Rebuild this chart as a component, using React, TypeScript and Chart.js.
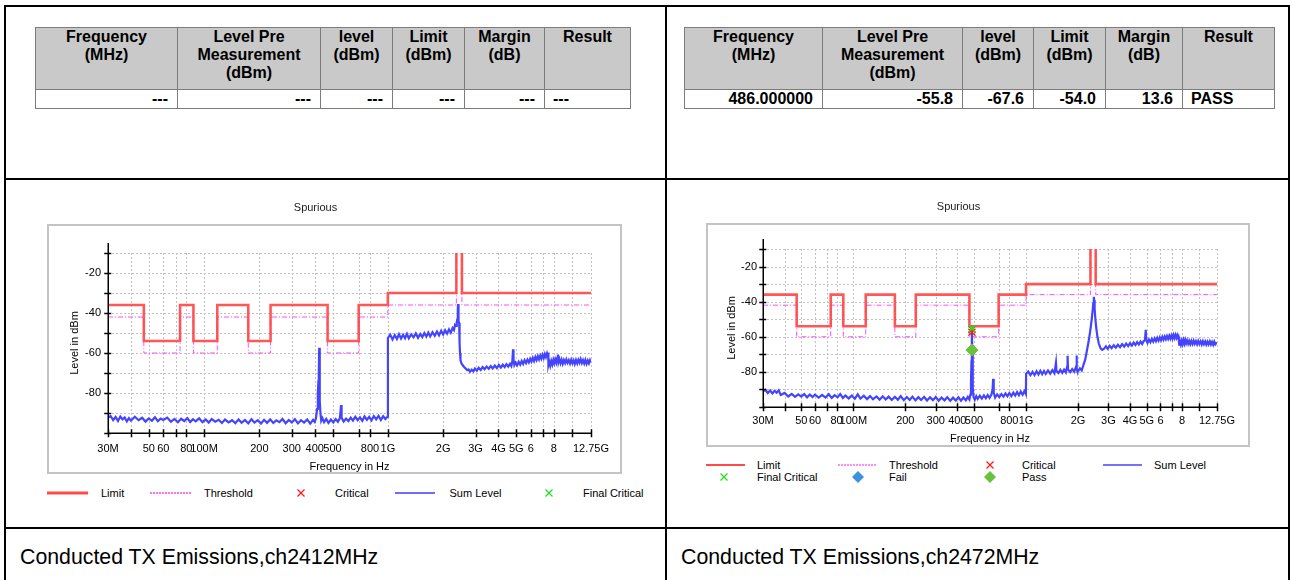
import React, { useEffect, useRef } from 'react';
import { Chart, registerables } from 'chart.js';

Chart.register(...registerables);

const FONT = '"Liberation Sans", Arial, Helvetica, sans-serif';
Chart.defaults.font.family = FONT;
Chart.defaults.color = '#000';

// ---------- table data ----------
const TABLE_HEADERS = ['Frequency\n(MHz)', 'Level Pre\nMeasurement\n(dBm)', 'level\n(dBm)', 'Limit\n(dBm)', 'Margin\n(dB)', 'Result'];
const ROW_CH2412 = ['---', '---', '---', '---', '---', '---'];
const ROW_CH2472 = ['486.000000', '-55.8', '-67.6', '-54.0', '13.6', 'PASS'];
const CAPTION_2412 = 'Conducted TX Emissions,ch2412MHz';
const CAPTION_2472 = 'Conducted TX Emissions,ch2472MHz';

// ---------- axes ----------
const X_TICKS_MHZ = [30, 40, 50, 60, 70, 80, 100, 200, 300, 400, 500, 700, 800, 1000, 2000, 3000, 4000, 5000, 6000, 7000, 8000, 10000, 12750];
const X_TICK_LABELS = ['30M', '', '50', '60', '', '80', '100M', '200', '300', '400', '500', '', '800', '1G', '2G', '3G', '4G', '5G', '6', '', '8', '', '12.75G'];
const Y_TICKS_DBM = [-100, -90, -80, -70, -60, -50, -40, -30, -20, -10];
const Y_TICK_LABELS = ['', '', '-80', '', '-60', '', '-40', '', '-20', ''];

// ---------- limit / threshold (step lines) ----------
const LIMIT_MHZ = [30, 47, 47, 74, 74, 87.5, 87.5, 118, 118, 174, 174, 230, 230, 470, 470, 694, 694, 1000, 1000, 2360, 2360, 2530, 2530, 12750];
const LIMIT_DBM = [-36, -36, -54, -54, -36, -36, -54, -54, -36, -36, -54, -54, -36, -36, -54, -54, -36, -36, -30, -30, 0, 0, -30, -30];
const THRESHOLD_DBM = [-42, -42, -60, -60, -42, -42, -60, -60, -42, -42, -60, -60, -42, -42, -60, -60, -42, -42, -36, -36, 0, 0, -36, -36];

// ---------- Sum Level, ch2412 (MHz, dBm) ----------
const SUM_2412: number[][] = [
  [30, -92.5], [31, -91.5], [32, -93.5], [33, -92], [34, -94], [35, -91.8], [36, -93.2], [37, -92.2], [38, -94.2], [39, -92.6],
  [40, -93.8], [42, -91.9], [44, -93.6], [46, -92.4], [48, -94.3], [50, -92.7], [52, -93.9], [54, -92.1], [56, -94.1], [58, -92.8],
  [60, -93.5], [63, -92.3], [66, -94.4], [69, -93], [72, -94.6], [75, -92.9], [78, -94], [81, -92.6], [84, -94.5], [87, -93.1],
  [90, -94.2], [94, -92.7], [98, -94.6], [102, -93.2], [106, -94.8], [110, -93], [115, -94.3], [120, -93.4], [125, -95], [130, -93.3],
  [136, -94.7], [142, -93.6], [148, -95.1], [154, -93.2], [160, -94.9], [167, -93.5], [174, -95.2], [181, -93.1], [188, -94.8], [196, -93.6],
  [204, -95.3], [212, -93.4], [220, -94.9], [229, -93.2], [238, -95], [247, -93.7], [257, -94.6], [267, -93], [278, -95.1], [289, -93.5],
  [300, -94.7], [312, -93.1], [324, -95.2], [337, -93.6], [350, -94.8], [364, -93.2], [378, -95.3], [392, -93.4], [400, -94.5], [406, -92.8],
  [412, -88], [416, -80], [419, -74], [421, -70], [423, -57.4], [425, -72], [427, -84], [430, -90.5], [434, -93.8], [440, -92.5],
  [450, -94.6], [462, -93], [475, -95], [490, -93.3], [505, -94.7], [520, -93], [535, -94.4], [548, -92.6], [553, -89], [556, -86],
  [560, -92.4], [575, -94.3], [592, -92.8], [610, -94], [628, -92.3], [646, -93.8], [665, -91.9], [685, -93.6], [705, -92.2], [726, -93.9],
  [747, -91.7], [769, -93.4], [792, -91.9], [815, -93.7], [839, -91.5], [864, -93.2], [890, -91.4], [916, -93.5], [943, -91.6], [970, -93],
  [998, -91.8], [1001, -52.5], [1030, -50.8], [1060, -53.2], [1090, -51], [1120, -53], [1150, -50.6], [1180, -52.8], [1210, -50.9], [1240, -52.6],
  [1270, -50.4], [1300, -52.7], [1340, -50.7], [1380, -52.2], [1420, -50.2], [1460, -52.4], [1500, -50.5], [1540, -52], [1580, -50], [1620, -51.8],
  [1660, -49.8], [1700, -51.7], [1750, -49.6], [1800, -51.4], [1850, -49.3], [1900, -51.2], [1950, -48.9], [2000, -50.8], [2050, -48.6], [2100, -50.3],
  [2150, -48.2], [2200, -49.8], [2250, -47.5], [2290, -48.5], [2320, -46], [2350, -46.5], [2370, -44.5], [2390, -43], [2400, -42.5], [2405, -38],
  [2410, -35.5], [2414, -42], [2420, -43.5], [2428, -42.2], [2436, -44], [2444, -45], [2452, -49], [2460, -55], [2470, -60], [2485, -63.5],
  [2510, -65], [2550, -66], [2600, -67], [2650, -67.8], [2700, -68.6], [2750, -68.2], [2800, -69.4], [2860, -68.3], [2920, -69.2], [2980, -67.8],
  [3050, -68.8], [3120, -67.4], [3200, -68.5], [3280, -67], [3360, -68.1], [3450, -66.8], [3540, -67.9], [3630, -66.5], [3720, -67.7], [3820, -66.3],
  [3920, -67.6], [4020, -66], [4120, -67.3], [4220, -65.8], [4320, -67], [4420, -65.6], [4520, -66.8], [4620, -65.4], [4700, -66.5], [4760, -64],
  [4800, -58.2], [4830, -63.5], [4880, -66], [4950, -64.8], [5050, -66.2], [5150, -64.4], [5250, -65.8], [5350, -64], [5450, -65.5], [5550, -63.6],
  [5650, -65], [5750, -63.3], [5850, -64.7], [5950, -62.9], [6050, -64.3], [6150, -62.4], [6250, -64], [6350, -62], [6450, -63.5], [6550, -61.6],
  [6650, -63.2], [6750, -61.3], [6850, -62.8], [6950, -60.9], [7050, -62.5], [7150, -60.5], [7250, -62], [7350, -60.2], [7420, -61.5], [7450, -59.8],
  [7480, -65.8], [7550, -64.2], [7650, -66.4], [7750, -64], [7850, -65.8], [7950, -63.5], [8050, -65.2], [8150, -63.2], [8250, -64.8], [8350, -62.5],
  [8420, -60.8], [8480, -64.6], [8580, -63], [8700, -65.1], [8820, -63.3], [8950, -65.4], [9080, -63.5], [9220, -65], [9360, -63.2], [9500, -64.9],
  [9650, -63.6], [9800, -65.3], [9950, -63.4], [10100, -65.1], [10250, -63.7], [10400, -65.5], [10560, -63.5], [10720, -65.2], [10880, -63.4], [11040, -64.9],
  [11200, -63.1], [11370, -65], [11540, -63.6], [11710, -65.3], [11880, -63.5], [12060, -65.4], [12240, -63.8], [12420, -65.2], [12590, -63.6], [12750, -64.8],
];

// ---------- Sum Level, ch2472 (MHz, dBm) ----------
const SUM_2472: number[][] = [
  [30, -91], [31, -90.3], [32, -92], [33, -90.6], [34, -92.3], [35, -90.8], [36, -91.9], [37, -90.5], [38, -93.2], [40, -92],
  [42, -94], [44, -92.5], [46, -94.2], [48, -92.8], [50, -94.1], [52, -92.6], [54, -94.5], [56, -92.9], [58, -94.3], [60, -93],
  [63, -94.7], [66, -93.1], [69, -94.6], [72, -92.7], [75, -94.8], [78, -93.3], [81, -94.5], [84, -92.6], [87, -94.9], [90, -93.4],
  [94, -95.1], [98, -93.5], [102, -95.3], [106, -92.8], [110, -95.2], [115, -93.6], [120, -95.5], [125, -93.8], [130, -95.6], [136, -94],
  [142, -95.8], [148, -93.9], [154, -95.7], [160, -94.1], [167, -96], [174, -94.2], [181, -95.9], [188, -93.8], [196, -96.1], [204, -94.3],
  [212, -96], [220, -94.1], [229, -96.2], [238, -94.4], [247, -96], [257, -94.2], [267, -96.3], [278, -94.5], [289, -96.1], [300, -94.3],
  [312, -96.4], [324, -94.6], [337, -96.2], [350, -94.4], [364, -96.5], [378, -94.7], [392, -96.3], [406, -94.5], [420, -96.4], [434, -94.6],
  [448, -96.2], [460, -94.3], [470, -95.8], [476, -93], [480, -86], [483, -74], [485, -60], [486, -55.8], [488, -66], [490, -80],
  [493, -89], [497, -94.4], [505, -95.9], [515, -93.8], [525, -95.4], [540, -93.6], [555, -95.2], [570, -93.4], [585, -95], [600, -93.2],
  [615, -94.8], [630, -93], [640, -90], [645, -84], [650, -92], [662, -94.6], [680, -92.8], [700, -94.4], [720, -92.6], [740, -94.1],
  [760, -92.3], [780, -93.9], [800, -92.1], [822, -93.8], [844, -91.8], [866, -93.5], [888, -91.5], [910, -93.3], [932, -91.2], [955, -93],
  [978, -91], [998, -92.6], [1001, -81], [1030, -79.8], [1060, -81.9], [1090, -80], [1120, -81.8], [1150, -79.6], [1180, -81.5], [1210, -79.4],
  [1240, -81.3], [1270, -79.5], [1300, -81.2], [1340, -79.2], [1380, -81], [1420, -79], [1460, -80.8], [1490, -74.8], [1500, -79.6], [1540, -80.6],
  [1580, -78.8], [1620, -80.5], [1660, -78.7], [1700, -80.3], [1730, -77], [1740, -70.8], [1750, -78.6], [1800, -80.1], [1850, -78.4], [1900, -79.9],
  [1950, -77], [1960, -70.7], [1970, -78.2], [2000, -79.7], [2050, -78], [2100, -79.2], [2150, -76], [2200, -73], [2250, -68], [2300, -63],
  [2350, -57], [2400, -50], [2430, -45], [2450, -41], [2465, -38.5], [2472, -37.2], [2480, -39], [2495, -44], [2520, -50], [2550, -55],
  [2590, -60], [2640, -64], [2700, -66.5], [2760, -67.4], [2830, -66.8], [2900, -65.5], [2970, -66.9], [3050, -65.2], [3130, -66.5], [3220, -64.8],
  [3310, -66.2], [3400, -64.5], [3500, -65.9], [3600, -64.2], [3700, -65.6], [3800, -63.9], [3900, -65.3], [4000, -63.6], [4100, -65], [4200, -63.3],
  [4300, -64.7], [4400, -63], [4500, -64.4], [4600, -62.7], [4700, -64.1], [4800, -62.4], [4880, -62], [4930, -56], [4970, -61.8], [5050, -63.5],
  [5150, -61.6], [5250, -63.1], [5350, -61.2], [5450, -62.8], [5550, -60.9], [5650, -62.5], [5750, -60.6], [5850, -62.2], [5950, -60.3], [6050, -61.9],
  [6150, -60], [6250, -61.7], [6350, -59.8], [6450, -61.4], [6550, -59.6], [6650, -61.2], [6750, -59.4], [6850, -61.1], [6950, -59.2], [7050, -61],
  [7150, -59], [7250, -60.8], [7350, -58.9], [7450, -60.6], [7550, -59], [7650, -60.4], [7700, -64.5], [7780, -62.6], [7870, -64.4], [7960, -62.3],
  [8050, -64.2], [8150, -62], [8250, -63.9], [8350, -61.8], [8450, -63.7], [8560, -62.1], [8680, -64], [8800, -62.3], [8930, -64.2], [9060, -62.4],
  [9200, -64.1], [9340, -62.2], [9480, -64], [9630, -62.5], [9780, -64.3], [9930, -62.4], [10080, -64.1], [10240, -62.6], [10400, -64.4], [10560, -62.5],
  [10720, -64.2], [10890, -62.7], [11060, -64.5], [11230, -62.8], [11400, -64.3], [11580, -62.6], [11760, -64.4], [11940, -62.9], [12120, -64.6], [12300, -62.8],
  [12480, -64.3], [12750, -63.2],
];

// ---------- markers, ch2472 ----------
const CRITICAL_2472: number[][] = [[486, -57.4], [486, -55.8]];
const FINAL_CRITICAL_2472: number[][] = [[486, -55.4]];
const PASS_2472: number[][] = [[486, -67.6]];

const COLORS = {
  limit: 'rgba(255, 70, 70, 0.9)',
  threshold: '#ff4dff',
  sum: '#4444ff',
  critical: '#ff1a1a',
  finalCritical: '#1fe01f',
  fail: '#3a93dc',
  pass: '#68c23a',
};

const pts = (arr: number[][]) => arr.map(([x, y]) => ({ x, y }));
const stepPts = (ys: number[]) => LIMIT_MHZ.map((x, i) => ({ x, y: ys[i] }));

// ---------- plugin: frame, dotted grid, black axes with crossing ticks ----------
const spurAxes = {
  id: 'spurAxes',
  beforeDraw(chart: any, _a: any, opts: any) {
    const { ctx } = chart;
    const [fx, fy, fw, fh] = opts.frame;
    ctx.save();
    ctx.strokeStyle = '#c4c4c4';
    ctx.lineWidth = 2;
    ctx.strokeRect(fx + 1, fy + 1, fw - 2, fh - 2);
    ctx.restore();
  },
  beforeDatasetsDraw(chart: any) {
    const { ctx, chartArea: a, scales } = chart;
    ctx.save();
    ctx.strokeStyle = '#c2c2c2';
    ctx.lineWidth = 1;
    ctx.setLineDash([2, 2]);
    ctx.beginPath();
    for (const v of X_TICKS_MHZ) {
      const px = Math.round(scales.x.getPixelForValue(v)) + 0.5;
      ctx.moveTo(px, a.top);
      ctx.lineTo(px, a.bottom);
    }
    for (const v of Y_TICKS_DBM) {
      const py = Math.round(scales.y.getPixelForValue(v)) + 0.5;
      ctx.moveTo(a.left, py);
      ctx.lineTo(a.right, py);
    }
    ctx.stroke();
    ctx.restore();
  },
  afterDatasetsDraw(chart: any) {
    const { ctx, chartArea: a, scales } = chart;
    ctx.save();
    ctx.strokeStyle = '#000';
    ctx.lineWidth = 1.5;
    ctx.beginPath();
    const ax = Math.round(a.left) + 0.25;
    const ay = Math.round(a.bottom) + 0.25;
    ctx.moveTo(ax, a.top - 10);
    ctx.lineTo(ax, ay);
    ctx.lineTo(a.right, ay);
    for (const v of Y_TICKS_DBM) {
      const py = Math.round(scales.y.getPixelForValue(v)) + 0.5;
      ctx.moveTo(ax - 4, py);
      ctx.lineTo(ax + 3, py);
    }
    for (const v of X_TICKS_MHZ) {
      const px = Math.round(scales.x.getPixelForValue(v)) + 0.5;
      ctx.moveTo(px, ay - 4);
      ctx.lineTo(px, ay + 4);
    }
    ctx.stroke();
    ctx.restore();
  },
};

type Geo = {
  left: number; top: number; width: number; height: number;
  frame: number[]; yWidth: number; xHeight: number; padRight: number;
  titleTop: number; titleBottom: number; xTickPad: number; xTitleBottom: number;
  yTitleTop: number; yTickPad: number;
};

function SpuriousChart({ geo, sum, markers }: { geo: Geo; sum: number[][]; markers: boolean }) {
  const ref = useRef<HTMLCanvasElement | null>(null);
  useEffect(() => {
    const f11 = { family: FONT, size: 11, weight: 'normal' as const };
    const datasets: any[] = [];
    if (markers) {
      datasets.push(
        { label: 'Final Critical', data: pts(FINAL_CRITICAL_2472), showLine: false, pointStyle: 'crossRot', pointRadius: 5, borderColor: COLORS.finalCritical, backgroundColor: COLORS.finalCritical, pointBorderWidth: 1.6 },
        { label: 'Critical', data: pts(CRITICAL_2472), showLine: false, pointStyle: 'crossRot', pointRadius: 5, borderColor: COLORS.critical, backgroundColor: COLORS.critical, pointBorderWidth: 1.4 },
        { label: 'Pass', data: pts(PASS_2472), showLine: false, pointStyle: 'rectRot', pointRadius: 6, borderColor: COLORS.pass, backgroundColor: COLORS.pass, pointBorderWidth: 1 },
      );
    }
    datasets.push(
      { label: 'Limit', data: stepPts(LIMIT_DBM), borderColor: COLORS.limit, borderWidth: 2.6, pointRadius: 0, tension: 0, fill: false },
      { label: 'Sum Level', data: pts(sum), borderColor: COLORS.sum, borderWidth: 2.2, pointRadius: 0, tension: 0, fill: false },
      { label: 'Threshold', data: stepPts(THRESHOLD_DBM), borderColor: COLORS.threshold, borderWidth: 1, borderDash: [5, 2, 1, 2], pointRadius: 0, tension: 0, fill: false },
    );
    const chart = new Chart(ref.current as HTMLCanvasElement, {
      type: 'line',
      data: { datasets },
      plugins: [spurAxes as any],
      options: {
        animation: false,
        responsive: false,
        maintainAspectRatio: false,
        devicePixelRatio: 1,
        events: [],
        layout: { padding: { left: 0, top: 0, right: geo.padRight, bottom: 0 } },
        plugins: {
          legend: { display: false },
          tooltip: { enabled: false },
          title: { display: true, text: 'Spurious', color: '#222', font: f11, padding: { top: geo.titleTop, bottom: geo.titleBottom } },
          spurAxes: { frame: geo.frame },
        } as any,
        scales: {
          x: {
            type: 'logarithmic', min: 30, max: 12750, bounds: 'data',
            afterBuildTicks: (s: any) => { s.ticks = X_TICKS_MHZ.map((v) => ({ value: v })); },
            afterFit: (s: any) => { s.height = geo.xHeight; },
            grid: { display: false, drawTicks: false },
            border: { display: false },
            ticks: { autoSkip: false, maxRotation: 0, minRotation: 0, padding: geo.xTickPad, color: '#000', font: f11, callback: (_v: any, i: number) => X_TICK_LABELS[i] },
            title: { display: true, text: 'Frequency in Hz', color: '#000', font: f11, padding: { top: 0, bottom: geo.xTitleBottom } },
          },
          y: {
            type: 'linear', min: -100, max: -10, bounds: 'data',
            afterBuildTicks: (s: any) => { s.ticks = Y_TICKS_DBM.map((v) => ({ value: v })); },
            afterFit: (s: any) => { s.width = geo.yWidth; },
            grid: { display: false, drawTicks: false },
            border: { display: false },
            ticks: { padding: geo.yTickPad, color: '#000', font: f11, callback: (_v: any, i: number) => Y_TICK_LABELS[i] },
            title: { display: true, text: 'Level in dBm', color: '#000', font: f11, padding: { top: geo.yTitleTop, bottom: 0 } },
          },
        } as any,
      },
    });
    return () => chart.destroy();
  }, []);
  return (
    <canvas
      ref={ref}
      width={geo.width}
      height={geo.height}
      style={{ position: 'absolute', left: geo.left, top: geo.top, width: geo.width, height: geo.height }}
    />
  );
}

const GEO_2412: Geo = {
  left: 40, top: 196, width: 590, height: 284,
  frame: [7, 28, 575, 250], yWidth: 68, xHeight: 47, padRight: 39,
  titleTop: 5.4, titleBottom: 38.4, xTickPad: 9, xTitleBottom: 6.4, yTitleTop: 27.9, yTickPad: 7,
};
const GEO_2472: Geo = {
  left: 700, top: 196, width: 560, height: 256,
  frame: [6, 27, 544, 224], yWidth: 63, xHeight: 45, padRight: 43,
  titleTop: 4.4, titleBottom: 35.4, xTickPad: 7.4, xTitleBottom: 6.4, yTitleTop: 24.9, yTickPad: 6,
};

// ---------- legend ----------
type LegendItem = { kind: 'line' | 'dots' | 'cross' | 'diamond'; sx: number; sw: number; y: number; color: string; w?: number; label: string; tx: number };

const LEGEND_2412: LegendItem[] = [
  { kind: 'line', sx: 47, sw: 41, y: 493, color: '#ff4a4a', w: 3, label: 'Limit', tx: 101 },
  { kind: 'dots', sx: 150, sw: 41, y: 493, color: '#ff44ff', label: 'Threshold', tx: 204 },
  { kind: 'cross', sx: 296, sw: 10, y: 493, color: COLORS.critical, label: 'Critical', tx: 335 },
  { kind: 'line', sx: 395, sw: 40, y: 493, color: '#3c3cff', w: 1.3, label: 'Sum Level', tx: 449.5 },
  { kind: 'cross', sx: 544, sw: 10, y: 493, color: COLORS.finalCritical, label: 'Final Critical', tx: 583 },
];
const LEGEND_2472: LegendItem[] = [
  { kind: 'line', sx: 706, sw: 39, y: 465, color: '#ff4a4a', w: 2, label: 'Limit', tx: 757 },
  { kind: 'dots', sx: 838, sw: 39, y: 465, color: '#ff66ff', label: 'Threshold', tx: 889 },
  { kind: 'cross', sx: 985, sw: 10, y: 465, color: COLORS.critical, label: 'Critical', tx: 1022 },
  { kind: 'line', sx: 1103, sw: 39, y: 465, color: '#7272ff', w: 2, label: 'Sum Level', tx: 1154 },
  { kind: 'cross', sx: 719, sw: 10, y: 477, color: COLORS.finalCritical, label: 'Final Critical', tx: 757 },
  { kind: 'diamond', sx: 852, sw: 12, y: 477, color: COLORS.fail, label: 'Fail', tx: 889 },
  { kind: 'diamond', sx: 984, sw: 12, y: 477, color: COLORS.pass, label: 'Pass', tx: 1022 },
];

function LegendSample({ it }: { it: LegendItem }) {
  const h = 12;
  let shape: any = null;
  if (it.kind === 'line') shape = <line x1={0} y1={6} x2={it.sw} y2={6} stroke={it.color} strokeWidth={it.w} />;
  if (it.kind === 'dots') shape = <line x1={0} y1={6} x2={it.sw} y2={6} stroke={it.color} strokeWidth={1.5} strokeDasharray="2 1" />;
  if (it.kind === 'cross') {
    const c = it.sw / 2;
    shape = (
      <g stroke={it.color} strokeWidth={1.3}>
        <line x1={c - 3.5} y1={2.5} x2={c + 3.5} y2={9.5} />
        <line x1={c - 3.5} y1={9.5} x2={c + 3.5} y2={2.5} />
      </g>
    );
  }
  if (it.kind === 'diamond') {
    const c = it.sw / 2;
    shape = <polygon points={`${c},0 ${c + 6},6 ${c},12 ${c - 6},6`} fill={it.color} />;
  }
  return (
    <svg width={it.sw} height={h} style={{ position: 'absolute', left: it.sx, top: it.y - 6, overflow: 'visible' }}>
      {shape}
    </svg>
  );
}

function Legend({ items }: { items: LegendItem[] }) {
  return (
    <>
      {items.map((it, i) => (
        <React.Fragment key={i}>
          <LegendSample it={it} />
          <span style={{ position: 'absolute', left: it.tx, top: it.y - 7, fontSize: 11, lineHeight: '14px', color: '#000', whiteSpace: 'nowrap' }}>{it.label}</span>
        </React.Fragment>
      ))}
    </>
  );
}

// ---------- result table ----------
function ResultTable({ left, widths, row }: { left: number; widths: number[]; row: string[] }) {
  const total = widths.reduce((a, b) => a + b, 0);
  const bd = '1px solid #7c7c7c';
  return (
    <table style={{ position: 'absolute', left, top: 27, width: total, borderCollapse: 'collapse', tableLayout: 'fixed', fontFamily: FONT, fontSize: 16, fontWeight: 'bold', lineHeight: '18px', color: '#000', border: '1px solid #6c6c6c' }}>
      <colgroup>
        {widths.map((w, i) => <col key={i} style={{ width: w }} />)}
      </colgroup>
      <tbody>
        <tr style={{ height: 62 }}>
          {TABLE_HEADERS.map((h, i) => (
            <th key={i} style={{ background: '#c9c9c9', border: bd, verticalAlign: 'top', textAlign: 'center', whiteSpace: 'pre-line', padding: '0 2px', fontWeight: 'bold' }}>{h}</th>
          ))}
        </tr>
        <tr style={{ height: 18 }}>
          {row.map((v, i) => (
            <td key={i} style={{ border: bd, padding: i === 5 ? '0 0 0 8px' : '0 9px 0 0', textAlign: i === 5 ? 'left' : 'right', whiteSpace: 'nowrap' }}>{v}</td>
          ))}
        </tr>
      </tbody>
    </table>
  );
}

const LEFT_TABLE_WIDTHS = [142, 143, 72, 72, 80, 86];
const RIGHT_TABLE_WIDTHS = [138, 140, 71, 72, 77, 92];

export default function App() {
  const bar = (l: number, t: number, w: number, h: number) => (
    <div style={{ position: 'absolute', left: l, top: t, width: w, height: h, background: '#000' }} />
  );
  return (
    <div style={{ position: 'absolute', left: 0, top: 0, width: 1290, height: 580, background: '#fff', overflow: 'hidden', fontFamily: FONT }}>
      {bar(4, 5, 1286, 2)}
      {bar(4, 178, 1286, 2)}
      {bar(4, 527, 1286, 2)}
      {bar(4, 5, 2, 575)}
      {bar(665, 5, 2, 575)}
      {bar(1288, 5, 2, 575)}

      <ResultTable left={35} widths={LEFT_TABLE_WIDTHS} row={ROW_CH2412} />
      <ResultTable left={684} widths={RIGHT_TABLE_WIDTHS} row={ROW_CH2472} />

      <SpuriousChart geo={GEO_2412} sum={SUM_2412} markers={false} />
      <SpuriousChart geo={GEO_2472} sum={SUM_2472} markers={true} />

      <Legend items={LEGEND_2412} />
      <Legend items={LEGEND_2472} />

      <div style={{ position: 'absolute', left: 20, top: 545, fontSize: 21.3, lineHeight: '24px', color: '#000', whiteSpace: 'nowrap' }}>{CAPTION_2412}</div>
      <div style={{ position: 'absolute', left: 681, top: 545, fontSize: 21.3, lineHeight: '24px', color: '#000', whiteSpace: 'nowrap' }}>{CAPTION_2472}</div>
    </div>
  );
}
